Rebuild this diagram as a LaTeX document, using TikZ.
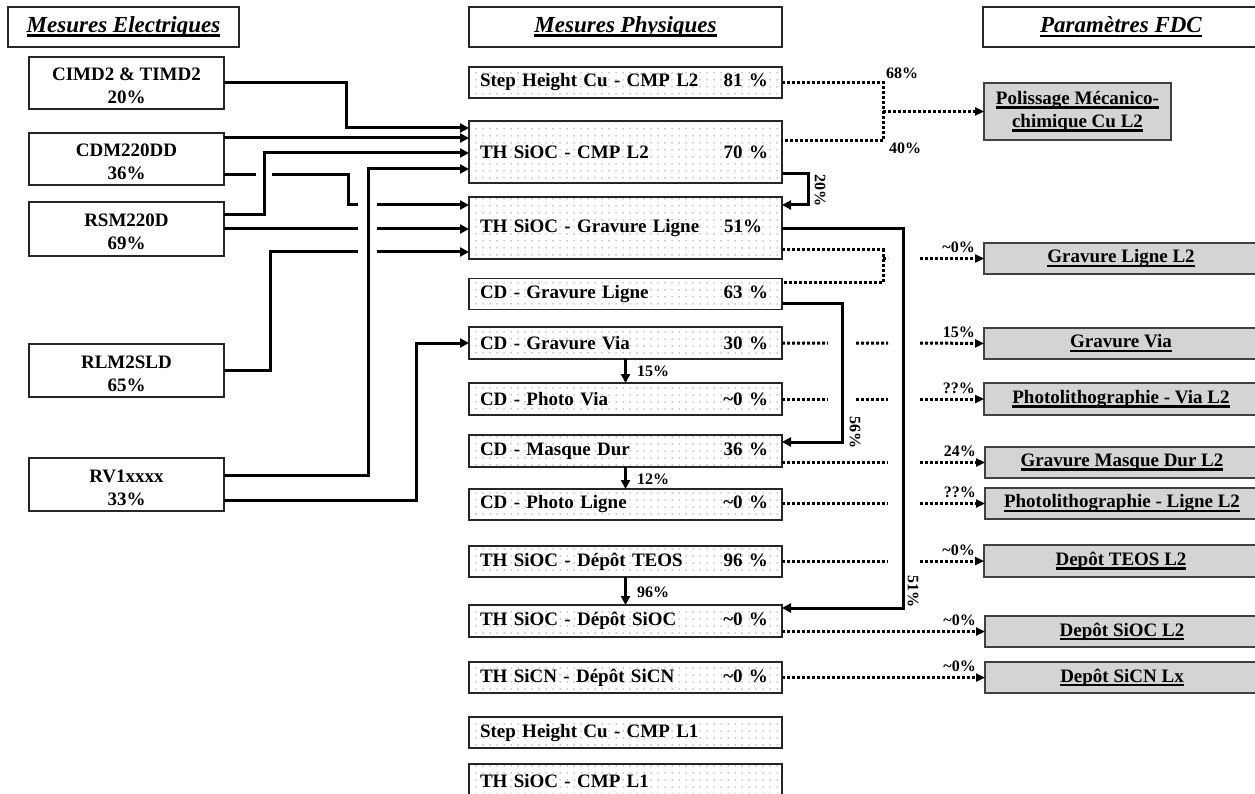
\documentclass[tikz,border=0pt]{standalone}
\usepackage{fontspec}
\setmainfont{Liberation Serif}
\usetikzlibrary{arrows.meta,patterns.meta}
\newcommand\myul[1]{\leavevmode\setbox0=\hbox{#1}\rlap{\vrule width\wd0 height -1.8pt depth 4.2pt}\box0}
\newcommand\rgt[1]{\hskip 0pt plus 1filll #1\kern3pt}
\newcommand\tstrut{\rule{0pt}{19pt}}
\begin{document}
\begin{tikzpicture}[x=1pt,y=-1pt,
  base/.style={font=\fontsize{19}{23}\selectfont\bfseries, inner sep=0pt, outer sep=0pt},
  titlebox/.style={draw=black!85, line width=1.2pt, fill=white, font=\fontsize{23}{27}\selectfont\bfseries\itshape, minimum height=40pt, inner sep=0pt, outer sep=0pt},
  ebox/.style={base, draw=black!85, line width=1.2pt, fill=white, minimum width=195pt, minimum height=52pt, align=center},
  pbox/.style={base, draw=black!85, line width=1.2pt, pattern={Dots[distance=7pt,radius=0.75pt]}, pattern color=black!40, text width=291pt, inner xsep=11pt, minimum height=31pt},
  fbox/.style={base, draw=black!75, line width=1.4pt, fill=black!17, minimum width=274pt, minimum height=31pt, align=center},
  sarr/.style={line width=3pt, -{Triangle[length=9pt,width=9pt]}},
  dline/.style={line width=3pt, dash pattern=on 3pt off 2pt},
  darr/.style={dline, -{Triangle[length=9pt,width=8pt]}},
  lab/.style={font=\fontsize{16}{18}\selectfont\bfseries, inner sep=0pt},
]
\useasboundingbox (0,0) rectangle (1255,794);
\clip (0,0) rectangle (1255,794);
\fill[white] (0,0) rectangle (1255,794);

% titles
\node[titlebox, minimum width=231pt] (te) at (123.5,27) {\myul{Mesures Electriques}};
\node[titlebox, minimum width=313pt] (tp) at (625.5,27) {\myul{Mesures Physiques}};
\node[titlebox, minimum width=276pt] (tf) at (1121,27) {\myul{Paramètres FDC}};

% left column
\node[ebox] (cimd) at (126.5,83) {\tstrut CIMD2 \& TIMD2\\20\%};
\node[ebox] (cdm) at (126.5,159) {\tstrut CDM220DD\\36\%};
\node[ebox, minimum height=54pt] (rsm) at (126.5,229) {\tstrut RSM220D\\69\%};
\node[ebox, minimum height=53pt] (rlm) at (126.5,370.5) {\tstrut RLM2SLD\\65\%};
\node[ebox, minimum height=53pt] (rv1) at (126.5,484.5) {\tstrut RV1xxxx\\33\%};

% middle column
\node[pbox] (sh2) at (625.5,82.5) {Step Height Cu - CMP L2\rgt{81 \%}};
\node[pbox, minimum height=62pt] (th2) at (625.5,152) {TH SiOC - CMP L2\rgt{70 \%}};
\node[pbox, minimum height=62pt] (thg) at (625.5,228) {TH SiOC - Gravure Ligne\rgt{51\%\kern6pt}};
\node[pbox] (cgl) at (625.5,294) {CD - Gravure Ligne\rgt{63 \%}};
\node[pbox, minimum height=32pt] (cgv) at (625.5,343) {CD - Gravure Via\rgt{30 \%}};
\node[pbox, minimum height=32pt] (cpv) at (625.5,399) {CD - Photo Via\rgt{\textasciitilde0 \%}};
\node[pbox, minimum height=32pt] (cmd) at (625.5,451) {CD - Masque Dur\rgt{36 \%}};
\node[pbox] (cpl) at (625.5,504.5) {CD - Photo Ligne\rgt{\textasciitilde0 \%}};
\node[pbox] (tteos) at (625.5,561.5) {TH SiOC - Dépôt TEOS\rgt{96 \%}};
\node[pbox, minimum height=32pt] (tsioc) at (625.5,621) {TH SiOC - Dépôt SiOC\rgt{\textasciitilde0 \%}};
\node[pbox] (tsicn) at (625.5,677.5) {TH SiCN - Dépôt SiCN\rgt{\textasciitilde0 \%}};
\node[pbox] (sh1) at (625.5,732.5) {Step Height Cu - CMP L1};
\node[pbox, minimum height=33pt] (th1) at (625.5,780.5) {TH SiOC - CMP L1};

% right column
\node[fbox, minimum width=187pt, minimum height=57pt] (pol) at (1077.5,111.5) {\myul{Polissage Mécanico-}\\\myul{chimique Cu L2}};
\node[fbox] (gl2) at (1121,258.5) {\myul{Gravure Ligne L2}};
\node[fbox] (gv) at (1121,343.5) {\myul{Gravure Via}};
\node[fbox, minimum height=32pt] (pv) at (1121,399) {\myul{Photolithographie - Via L2}};
\node[fbox] (gmd) at (1122,462.5) {\myul{Gravure Masque Dur L2}};
\node[fbox] (pl) at (1122,503.5) {\myul{Photolithographie - Ligne L2}};
\node[fbox, minimum height=32pt] (dteos) at (1121,561) {\myul{Depôt TEOS L2}};
\node[fbox] (dsioc) at (1122,631.5) {\myul{Depôt SiOC L2}};
\node[fbox] (dsicn) at (1122,677.5) {\myul{Depôt SiCN Lx}};

% left connectors
\draw[sarr] (cimd.east) -| (346,128) -- (th2.west |- 0,128);
\draw[sarr] (cdm.east |- 0,138) -- (th2.west |- 0,138);
\draw[sarr] (rsm.east |- 0,215) -| (264,153) -- (th2.west |- 0,153);
\draw[sarr] (rv1.east |- 0,475) -| (368,169) -- (th2.west |- 0,169);
\draw[sarr] (cdm.east |- 0,175) -- (256,175) (272,175) -| (348,205) -- (358,205) (377,205) -- (thg.west |- 0,205);
\draw[sarr] (rsm.east |- 0,229) -- (358,229) (377,229) -- (thg.west |- 0,229);
\draw[sarr] (rlm.east) -| (270,252) -- (358,252) (377,252) -- (thg.west |- 0,252);
\draw[sarr] (rv1.east |- 0,500) -| (416,343) -- (cgv.west);

% middle to middle
\draw[sarr] (th2.east |- 0,174) -| (808,205) -- (thg.east |- 0,205);
\draw[sarr] (thg.east |- 0,229) -| (903,608) -- (tsioc.east |- 0,608);
\draw[sarr] (cgl.east |- 0,303) -| (842,442) -- (cmd.east |- 0,442);
\draw[sarr] (cgv.south) -- (cpv.north);
\draw[sarr] (cmd.south) -- (cpl.north);
\draw[sarr] (tteos.south) -- (tsioc.north);

% dotted to right
\draw[dline] (sh2.east) -| (883,141) -- (th2.east |- 0,141);
\draw[darr] (pol.west -| 883,0) -- (pol.west);
\draw[dline] (thg.east |- 0,250) -| (883,283) -- (cgl.east |- 0,283);
\draw[darr] (gl2.west -| 883,0) -- (gl2.west -| 888,0) (gl2.west -| 920,0) -- (gl2.west);
\draw[darr] (cgv.east) -- (cgv.east -| 828,0) (cgv.east -| 856,0) -- (cgv.east -| 888,0) (cgv.east -| 920,0) -- (gv.west);
\draw[darr] (cpv.east) -- (cpv.east -| 828,0) (cpv.east -| 856,0) -- (cpv.east -| 888,0) (cpv.east -| 920,0) -- (pv.west);
\draw[darr] (cmd.east |- gmd.west) -- (gmd.west -| 888,0) (gmd.west -| 920,0) -- (gmd.west);
\draw[darr] (cpl.east |- pl.west) -- (pl.west -| 888,0) (pl.west -| 920,0) -- (pl.west);
\draw[darr] (tteos.east |- dteos.west) -- (dteos.west -| 888,0) (dteos.west -| 920,0) -- (dteos.west);
\draw[darr] (tsioc.east |- dsioc.west) -- (dsioc.west);
\draw[darr] (tsicn.east |- dsicn.west) -- (dsicn.west);

% labels
\node[lab, anchor=base west] (l68) at (886,79) {68\%};
\node[lab, anchor=base west] (l40) at (889,154) {40\%};
\node[lab, rotate=-90] (l20) at (820,191) {20\%};
\node[lab, rotate=-90] (l56) at (855,432) {56\%};
\node[lab, rotate=-90] (l51) at (913,591) {51\%};
\node[lab, anchor=base west] (l15a) at (637,376) {15\%};
\node[lab, anchor=base west] (l12) at (637,484) {12\%};
\node[lab, anchor=base west] (l96) at (637,597) {96\%};
\node[lab, anchor=base east] (lgl) at ([xshift=-9pt,yshift=6pt]gl2.west) {\textasciitilde0\%};
\node[lab, anchor=base east] (lgv) at ([xshift=-9pt,yshift=6pt]gv.west) {15\%};
\node[lab, anchor=base east] (lpv) at ([xshift=-9pt,yshift=6pt]pv.west) {??\%};
\node[lab, anchor=base east] (lgmd) at ([xshift=-9pt,yshift=6pt]gmd.west) {24\%};
\node[lab, anchor=base east] (lpl) at ([xshift=-9pt,yshift=6pt]pl.west) {??\%};
\node[lab, anchor=base east] (lte) at ([xshift=-9pt,yshift=6pt]dteos.west) {\textasciitilde0\%};
\node[lab, anchor=base east] (lso) at ([xshift=-9pt,yshift=6pt]dsioc.west) {\textasciitilde0\%};
\node[lab, anchor=base east] (lsn) at ([xshift=-9pt,yshift=6pt]dsicn.west) {\textasciitilde0\%};
\end{tikzpicture}
\end{document}
